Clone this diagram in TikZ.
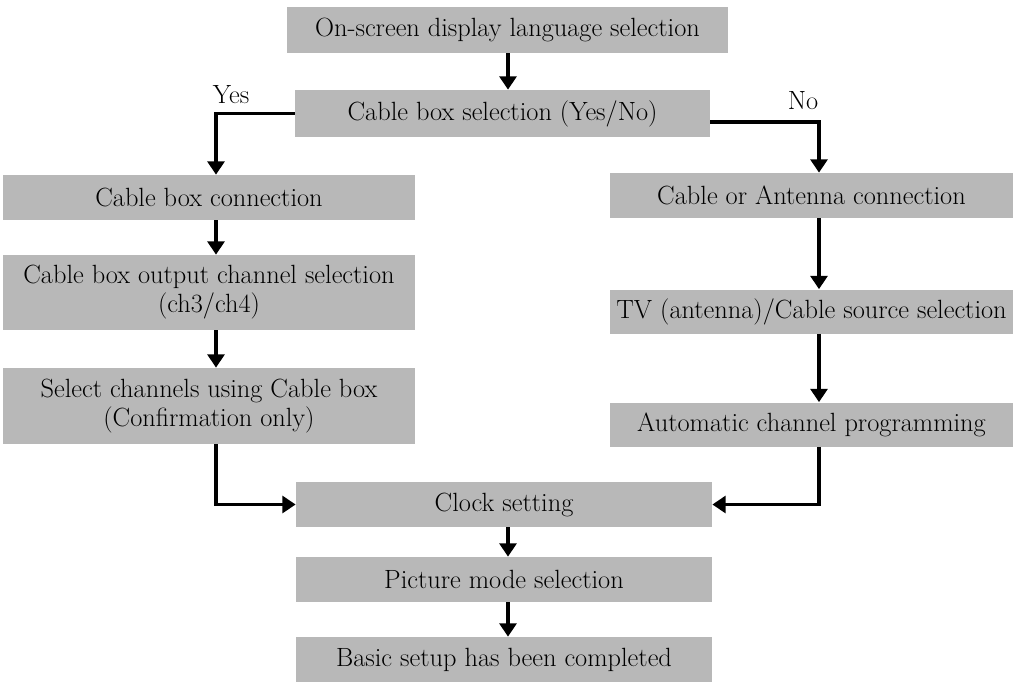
\documentclass[tikz,border=0pt]{standalone}
\usepackage{xcolor,tikz}
\usetikzlibrary{arrows.meta,positioning,calc}

\begin{document}
\begin{tikzpicture}[>={Triangle[length=7.5pt,width=9.5pt]},
 stepbox/.style={fill=black!28,inner sep=0pt,align=center,font=\fontsize{15}{16.5}\selectfont},
 flow/.style={->,line width=1.9pt}]
 \useasboundingbox (0,0) rectangle (20.36,-13.82);
 \node[stepbox,minimum width=8.82cm,minimum height=0.92cm] (lang) at (10.15,-0.60) {On-screen display language selection};
 \node[stepbox,minimum width=8.30cm,minimum height=0.94cm] (cbsel) at (10.05,-2.27) {Cable box selection (Yes/No)};
 \node[stepbox,minimum width=8.24cm,minimum height=0.90cm] (cbconn) at (4.18,-3.95) {Cable box connection};
 \node[stepbox,minimum width=8.24cm,minimum height=1.50cm] (cbout) at (4.18,-5.85) {Cable box output channel selection\\(ch3/ch4)};
 \node[stepbox,minimum width=8.24cm,minimum height=1.52cm] (selch) at (4.18,-8.12) {Select channels using Cable box\\(Confirmation only)};
 \node[stepbox,minimum width=8.06cm,minimum height=0.90cm] (ant) at (16.23,-3.91) {Cable or Antenna connection};
 \node[stepbox,minimum width=8.06cm,minimum height=0.88cm] (src) at (16.23,-6.23) {TV (antenna)/Cable source selection};
 \node[stepbox,minimum width=8.06cm,minimum height=0.88cm] (auto) at (16.23,-8.49) {Automatic channel programming};
 \node[stepbox,minimum width=8.32cm,minimum height=0.90cm] (clock) at (10.08,-10.09) {Clock setting};
 \node[stepbox,minimum width=8.32cm,minimum height=0.90cm] (pic) at (10.08,-11.59) {Picture mode selection};
 \node[stepbox,minimum width=8.32cm,minimum height=0.90cm] (done) at (10.08,-13.19) {Basic setup has been completed};
 \node[font=\fontsize{15}{16.5}\selectfont] (yes) at (4.62,-1.90) {Yes};
 \node[font=\fontsize{15}{16.5}\selectfont] (no) at (16.06,-2.02) {No};
 \coordinate (mx) at (10.16,0);
 \coordinate (lx) at (4.32,0);
 \coordinate (rx) at (16.38,0);
 \coordinate (noy) at (0,-2.44);
 \draw[flow] (lang.south -| mx) -- (cbsel.north -| mx);
 \draw[flow] (cbsel.west) -| (cbconn.north -| lx);
 \draw[flow] (cbsel.east |- noy) -| (ant.north -| rx);
 \draw[flow] (cbconn.south -| lx) -- (cbout.north -| lx);
 \draw[flow] (cbout.south -| lx) -- (selch.north -| lx);
 \draw[flow] (ant.south -| rx) -- (src.north -| rx);
 \draw[flow] (src.south -| rx) -- (auto.north -| rx);
 \draw[flow] (selch.south -| lx) |- (clock.west);
 \draw[flow] (auto.south -| rx) |- (clock.east);
 \draw[flow] (clock.south -| mx) -- (pic.north -| mx);
 \draw[flow] (pic.south -| mx) -- (done.north -| mx);
\end{tikzpicture}
\end{document}
